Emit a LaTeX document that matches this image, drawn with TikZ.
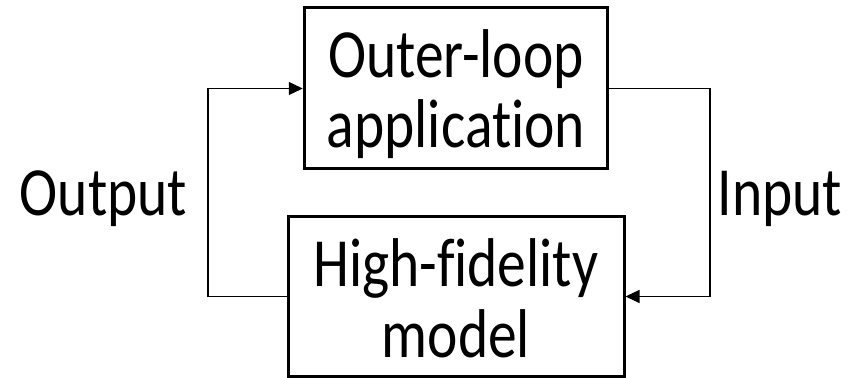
\documentclass[tikz,border=0pt]{standalone}
\usepackage{fontspec}
\setmainfont{Carlito}[Ligatures=NoCommon]
\usetikzlibrary{arrows.meta}
\newcommand{\tallstack}[1]{\scalebox{1}[1.2]{\begin{tabular}[b]{@{}c@{}}#1\end{tabular}}}
\begin{document}
\begin{tikzpicture}[x=1pt,y=1pt,
  blockbox/.style={draw=black,line width=3pt,inner sep=0pt},
  lbl/.style={inner sep=0pt,anchor=base,font=\fontsize{57.5}{59}\selectfont},
  conn/.style={draw=black,line width=1.3pt,-{Triangle[length=14pt,width=13pt]}}]
\useasboundingbox (0,0) rectangle (858,377);
\node[blockbox,minimum width=303.5pt,minimum height=161pt] (outer) at (456,288.5) {};
\node[blockbox,minimum width=336pt,minimum height=159pt] (model) at (456,80.5) {};
\node[lbl] (outertxt) at (456,229) {\tallstack{Outer-loop\\application}};
\node[lbl] (modeltxt) at (456,20) {\tallstack{High-fidelity\\model}};
\coordinate (lc1) at (208,80.5);
\coordinate (lc2) at (208,288.5);
\coordinate (rc1) at (710,288.5);
\coordinate (rc2) at (710,80.5);
\draw[conn] (model.west) -- (lc1) -- (lc2) -- (outer.west);
\draw[conn] (outer.east) -- (rc1) -- (rc2) -- (model.east);
\node[lbl] (out) at (103.5,161) {\scalebox{1}[1.2]{Output}};
\node[lbl] (in) at (780,161) {\scalebox{1}[1.2]{Input}};
\end{tikzpicture}
\end{document}
